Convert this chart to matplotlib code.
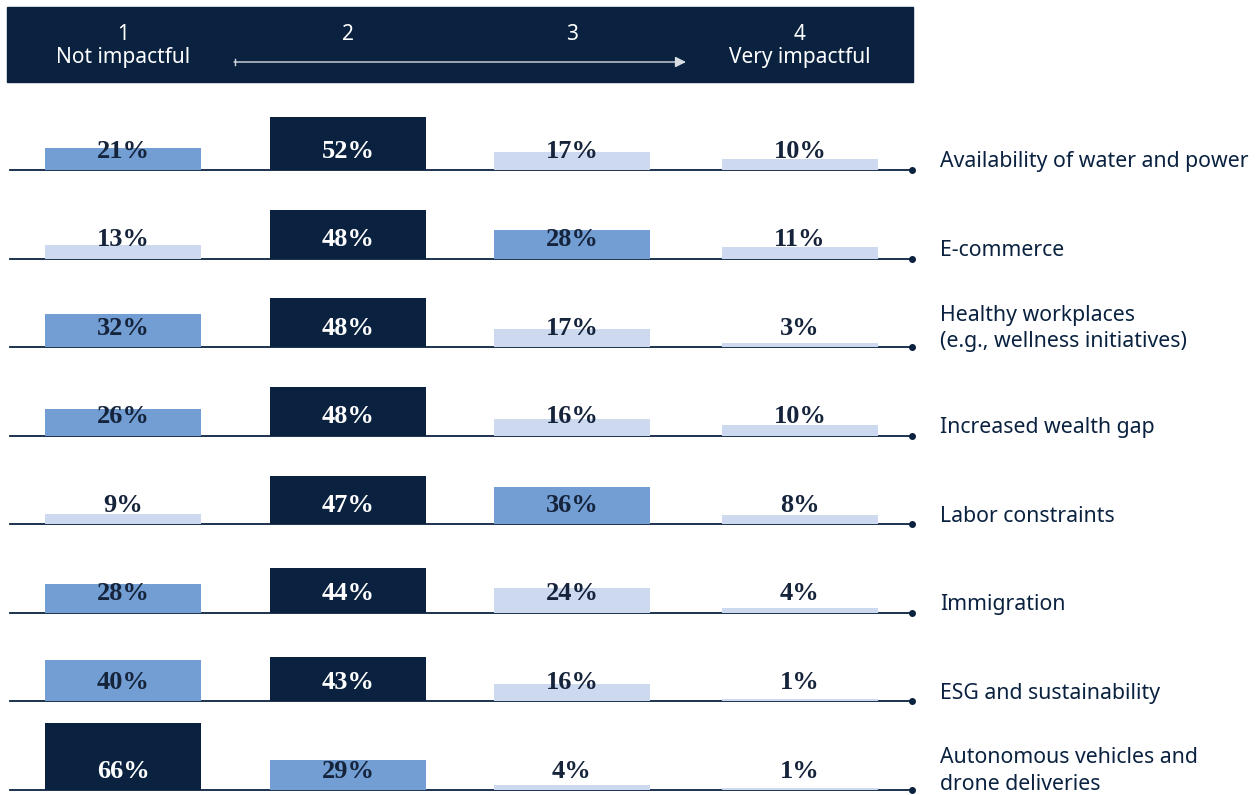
import numpy as np
import matplotlib
matplotlib.use("Agg")
import matplotlib.pyplot as plt
from matplotlib.patches import Rectangle

# ---- data ----
categories = [
    "Availability of water and power",
    "E-commerce",
    "Healthy workplaces\n(e.g., wellness initiatives)",
    "Increased wealth gap",
    "Labor constraints",
    "Immigration",
    "ESG and sustainability",
    "Autonomous vehicles and\ndrone deliveries",
]
score_labels = ["1\nNot impactful", "2", "3", "4\nVery impactful"]
score_1 = [21, 13, 32, 26, 9, 28, 40, 66]
score_2 = [52, 48, 48, 48, 47, 44, 43, 29]
score_3 = [17, 28, 17, 16, 36, 24, 16, 4]
score_4 = [10, 11, 3, 10, 8, 4, 1, 1]

# ---- style ----
NAVY = "#0a2240"
MID = "#729ed3"
LIGHT = "#cdd9ee"
TXT_DARK = "#15233b"

W, H = 1256, 795
fig = plt.figure(figsize=(W / 100, H / 100), dpi=100)
ax = fig.add_axes([0, 0, 1, 1])
ax.set_xlim(0, W)
ax.set_ylim(H, 0)
ax.axis("off")

col_x = np.array([123, 348, 572, 800])
bar_w = 156
baselines = np.linspace(170, 790, len(categories))
scale = 1.0  # pixels per percentage point

values = np.array([score_1, score_2, score_3, score_4]).T  # rows x cols

# header band
ax.add_patch(Rectangle((7, 7), 906, 75, color=NAVY, zorder=1))
hdr_font = dict(family="Noto Sans", color="white", fontsize=15, ha="center")
for x, lab in zip(col_x, score_labels):
    lines = lab.split("\n")
    ax.text(x, 35, lines[0], va="center", **hdr_font)
    if len(lines) > 1:
        ax.text(x, 57, lines[1], va="center", **hdr_font)
ax.annotate("", xy=(686, 62), xytext=(234, 62),
            arrowprops=dict(arrowstyle="-|>", color="#d9dde3", lw=1.0,
                            mutation_scale=16, shrinkA=0, shrinkB=0), zorder=3)
ax.plot([235, 235], [59, 65], color="#d9dde3", lw=1.0, zorder=3)

for r, (cat, base) in enumerate(zip(categories, baselines)):
    row = values[r]
    order = np.argsort(-row, kind="stable")
    colors = [LIGHT] * 4
    colors[order[0]] = NAVY
    colors[order[1]] = MID
    ax.plot([10, 912], [base, base], color=NAVY, lw=1.3, zorder=2)
    ax.plot([912], [base], "o", color=NAVY, ms=4, zorder=3)
    ax.bar(col_x, -(row * scale + 1), bottom=base, width=bar_w, color=colors, zorder=2.5)
    for c in range(4):
        tc = "white" if colors[c] == NAVY else TXT_DARK
        ax.text(col_x[c], base - 19, f"{row[c]}%", ha="center", va="center",
                family="Liberation Serif", fontweight="bold", fontsize=19,
                color=tc, zorder=4)
    n_lines = cat.count("\n") + 1
    ax.text(940, base - (8 if n_lines == 1 else 19), cat, ha="left", va="center",
            family="Noto Sans", fontsize=15.3, color=NAVY, linespacing=1.32)

fig.savefig("out.png", dpi=100)
